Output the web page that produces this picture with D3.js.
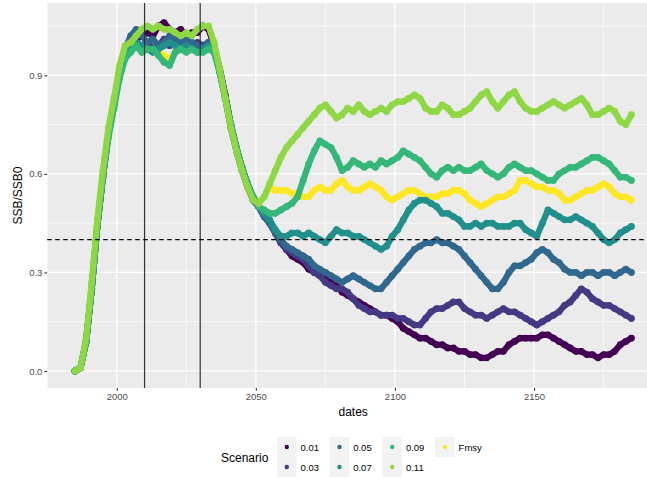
<!DOCTYPE html>
<html>
<head>
<meta charset="utf-8">
<script src="https://cdn.jsdelivr.net/npm/d3@7"></script>
<style>
  body { margin: 0; background: #fff; }
  text { font-family: "Liberation Sans", Arial, sans-serif; }
</style>
</head>
<body>
<div id="chart"></div>
<script>
// scenario names and their colours (viridis, 7 levels)
const scenarios = ["0.01", "0.03", "0.05", "0.07", "0.09", "0.11", "Fmsy"];
const colors = ["#440154", "#443A83", "#31688E", "#21908C", "#35B779", "#8FD744", "#FDE725"];

// one value every 2 years, 1985 .. 2185
const years = d3.range(1985, 2186, 2);

const s001 = [
  0.00, 0.01, 0.09, 0.25, 0.44, 0.59, 0.72, 0.81, 0.90, 0.97, // 1985
  1.00, 1.01, 1.02, 1.03, 1.02, 1.05, 1.06, 1.04, 1.03, 1.04, // 2005
  1.02, 1.03, 1.03, 1.05, 1.04, 0.99, 0.92, 0.84, 0.75, 0.68, // 2025
  0.62, 0.57, 0.53, 0.50, 0.47, 0.45, 0.42, 0.39, 0.37, 0.35, // 2045
  0.34, 0.33, 0.31, 0.30, 0.29, 0.28, 0.27, 0.26, 0.24, 0.23, // 2065
  0.22, 0.21, 0.20, 0.19, 0.18, 0.17, 0.17, 0.16, 0.15, 0.13, // 2085
  0.12, 0.11, 0.10, 0.10, 0.09, 0.08, 0.08, 0.07, 0.07, 0.06, // 2105
  0.06, 0.05, 0.05, 0.04, 0.04, 0.05, 0.06, 0.06, 0.08, 0.09, // 2125
  0.10, 0.10, 0.10, 0.10, 0.11, 0.11, 0.10, 0.09, 0.08, 0.07, // 2145
  0.06, 0.06, 0.05, 0.05, 0.04, 0.05, 0.05, 0.06, 0.08, 0.09, // 2165
  0.10];
const s003 = [
  0.00, 0.01, 0.09, 0.25, 0.44, 0.59, 0.72, 0.81, 0.90, 0.96,
  0.99, 1.00, 0.99, 1.00, 0.98, 0.99, 1.01, 0.99, 1.00, 0.99,
  0.98, 0.99, 1.00, 0.99, 1.00, 0.98, 0.91, 0.83, 0.74, 0.67,
  0.61, 0.56, 0.52, 0.50, 0.47, 0.45, 0.42, 0.39, 0.37, 0.36,
  0.35, 0.34, 0.32, 0.30, 0.29, 0.27, 0.26, 0.25, 0.25, 0.24,
  0.22, 0.20, 0.19, 0.18, 0.18, 0.17, 0.17, 0.17, 0.16, 0.16,
  0.15, 0.14, 0.14, 0.16, 0.18, 0.19, 0.19, 0.20, 0.21, 0.21,
  0.19, 0.18, 0.17, 0.17, 0.16, 0.17, 0.18, 0.19, 0.18, 0.18,
  0.17, 0.16, 0.15, 0.14, 0.15, 0.16, 0.17, 0.18, 0.20, 0.21,
  0.23, 0.25, 0.24, 0.22, 0.21, 0.20, 0.20, 0.19, 0.18, 0.17,
  0.16];
const s005 = [
  0.00, 0.01, 0.09, 0.25, 0.44, 0.59, 0.72, 0.82, 0.91, 0.98,
  1.02, 1.04, 1.02, 1.00, 1.01, 0.99, 1.00, 1.02, 1.01, 1.00,
  1.01, 1.00, 0.99, 0.98, 1.00, 0.98, 0.92, 0.84, 0.75, 0.68,
  0.62, 0.57, 0.53, 0.50, 0.47, 0.45, 0.42, 0.40, 0.38, 0.37,
  0.36, 0.35, 0.34, 0.32, 0.31, 0.30, 0.29, 0.28, 0.27, 0.28,
  0.29, 0.28, 0.27, 0.26, 0.25, 0.25, 0.27, 0.29, 0.31, 0.33,
  0.35, 0.37, 0.38, 0.39, 0.39, 0.40, 0.39, 0.39, 0.38, 0.37,
  0.35, 0.33, 0.31, 0.29, 0.27, 0.25, 0.25, 0.27, 0.30, 0.32,
  0.32, 0.33, 0.34, 0.36, 0.37, 0.36, 0.34, 0.33, 0.31, 0.30,
  0.30, 0.29, 0.30, 0.30, 0.29, 0.30, 0.30, 0.29, 0.30, 0.31,
  0.30];
const s007 = [
  0.00, 0.01, 0.09, 0.25, 0.44, 0.59, 0.72, 0.81, 0.90, 0.96,
  0.98, 1.00, 0.99, 0.98, 0.97, 0.98, 0.99, 1.00, 0.99, 0.98,
  0.99, 0.98, 0.97, 0.98, 0.99, 0.97, 0.91, 0.83, 0.75, 0.68,
  0.62, 0.57, 0.53, 0.50, 0.48, 0.46, 0.43, 0.41, 0.41, 0.42,
  0.42, 0.41, 0.42, 0.41, 0.40, 0.39, 0.41, 0.43, 0.42, 0.42,
  0.41, 0.41, 0.40, 0.39, 0.38, 0.37, 0.38, 0.41, 0.43, 0.46,
  0.49, 0.51, 0.52, 0.52, 0.51, 0.50, 0.48, 0.48, 0.47, 0.46,
  0.44, 0.44, 0.45, 0.44, 0.45, 0.45, 0.44, 0.44, 0.44, 0.45,
  0.45, 0.43, 0.42, 0.41, 0.45, 0.49, 0.48, 0.47, 0.46, 0.46,
  0.47, 0.46, 0.45, 0.44, 0.42, 0.40, 0.39, 0.40, 0.42, 0.43,
  0.44];
const s009 = [
  0.00, 0.01, 0.09, 0.25, 0.44, 0.59, 0.71, 0.80, 0.89, 0.95,
  0.97, 0.99, 0.97, 0.98, 0.98, 0.96, 0.94, 0.93, 0.97, 0.98,
  0.97, 0.98, 0.97, 0.97, 0.98, 0.97, 0.91, 0.83, 0.75, 0.68,
  0.62, 0.57, 0.53, 0.50, 0.49, 0.48, 0.48, 0.49, 0.50, 0.51,
  0.53, 0.58, 0.63, 0.67, 0.70, 0.69, 0.68, 0.65, 0.61, 0.62,
  0.64, 0.63, 0.62, 0.63, 0.62, 0.64, 0.63, 0.64, 0.65, 0.67,
  0.66, 0.65, 0.64, 0.62, 0.60, 0.59, 0.61, 0.62, 0.61, 0.62,
  0.61, 0.61, 0.62, 0.63, 0.61, 0.60, 0.59, 0.60, 0.62, 0.63,
  0.62, 0.61, 0.61, 0.60, 0.59, 0.58, 0.58, 0.60, 0.61, 0.62,
  0.62, 0.63, 0.64, 0.65, 0.65, 0.64, 0.63, 0.61, 0.59, 0.59,
  0.58];
const s011 = [
  0.00, 0.01, 0.10, 0.27, 0.46, 0.61, 0.74, 0.83, 0.93, 0.99,
  1.00, 1.02, 1.04, 1.05, 1.04, 1.05, 1.04, 1.04, 1.03, 1.02,
  1.03, 1.02, 1.04, 1.05, 1.05, 1.00, 0.92, 0.83, 0.74, 0.67,
  0.61, 0.56, 0.52, 0.51, 0.53, 0.57, 0.61, 0.65, 0.68, 0.70,
  0.72, 0.74, 0.76, 0.78, 0.80, 0.81, 0.79, 0.77, 0.78, 0.80,
  0.79, 0.81, 0.79, 0.78, 0.79, 0.80, 0.79, 0.81, 0.82, 0.82,
  0.83, 0.84, 0.83, 0.80, 0.79, 0.79, 0.81, 0.80, 0.78, 0.78,
  0.79, 0.80, 0.82, 0.84, 0.85, 0.82, 0.80, 0.82, 0.84, 0.85,
  0.82, 0.80, 0.79, 0.79, 0.80, 0.81, 0.82, 0.81, 0.80, 0.81,
  0.82, 0.83, 0.81, 0.78, 0.78, 0.79, 0.80, 0.79, 0.76, 0.75,
  0.78];
const sFmsy = [
  0.00, 0.01, 0.09, 0.25, 0.44, 0.59, 0.72, 0.81, 0.90, 0.96,
  0.98, 0.99, 0.97, 0.98, 0.99, 0.97, 0.96, 0.95, 0.97, 0.98,
  0.99, 0.98, 0.98, 0.99, 0.99, 0.98, 0.92, 0.84, 0.75, 0.68,
  0.62, 0.57, 0.53, 0.51, 0.53, 0.56, 0.55, 0.55, 0.55, 0.54,
  0.54, 0.53, 0.53, 0.55, 0.56, 0.55, 0.55, 0.57, 0.58, 0.56,
  0.55, 0.55, 0.56, 0.57, 0.56, 0.55, 0.53, 0.52, 0.53, 0.54,
  0.55, 0.55, 0.54, 0.53, 0.53, 0.53, 0.54, 0.54, 0.55, 0.55,
  0.54, 0.52, 0.51, 0.50, 0.51, 0.52, 0.53, 0.53, 0.54, 0.55,
  0.58, 0.58, 0.57, 0.56, 0.56, 0.55, 0.55, 0.54, 0.52, 0.52,
  0.53, 0.54, 0.55, 0.55, 0.56, 0.57, 0.56, 0.54, 0.53, 0.53,
  0.52];

const seriesValues = [s001, s003, s005, s007, s009, s011, sFmsy];

// reference lines
const vLines = [2010, 2030];
const hLine = 0.4;

// axis ticks
const xTicks = [2000, 2050, 2100, 2150];
const xMinor = [1975, 2025, 2075, 2125, 2175];
const yTicks = [0.0, 0.3, 0.6, 0.9];
const yMinor = [0.15, 0.45, 0.75, 1.05];

const w = 647;
const h = 479;
const panel = {left: 47.2, top: 3, right: 659.2, bottom: 388};

const svg = d3.select("#chart").
append("svg").
attr("width", w).
attr("height", h);

const x = d3.scaleLinear().domain([1975, 2195]).range([panel.left, panel.right]);
const y = d3.scaleLinear().domain([-0.0517, 1.12]).range([panel.bottom, panel.top]);

// grey panel
svg.append("rect").
attr("x", panel.left).
attr("y", panel.top).
attr("width", panel.right - panel.left).
attr("height", panel.bottom - panel.top).
attr("fill", "#EBEBEB");

// grid lines, minor first
const grid = svg.append("g");
grid.selectAll(".ymin").data(yMinor).enter().append("line").
attr("x1", panel.left).attr("x2", panel.right).
attr("y1", d => y(d)).attr("y2", d => y(d)).
attr("stroke", "#fff").attr("stroke-width", 0.6);
grid.selectAll(".xmin").data(xMinor).enter().append("line").
attr("x1", d => x(d)).attr("x2", d => x(d)).
attr("y1", panel.top).attr("y2", panel.bottom).
attr("stroke", "#fff").attr("stroke-width", 0.6);
grid.selectAll(".ymaj").data(yTicks).enter().append("line").
attr("x1", panel.left).attr("x2", panel.right).
attr("y1", d => y(d)).attr("y2", d => y(d)).
attr("stroke", "#fff").attr("stroke-width", 1.2);
grid.selectAll(".xmaj").data(xTicks).enter().append("line").
attr("x1", d => x(d)).attr("x2", d => x(d)).
attr("y1", panel.top).attr("y2", panel.bottom).
attr("stroke", "#fff").attr("stroke-width", 1.2);

// draw order: Fmsy underneath, then 0.01 .. 0.11
const order = [6, 0, 1, 2, 3, 4, 5];
const line = d3.line().x((d, i) => x(years[i])).y(d => y(d));

order.forEach(k => {
  const g = svg.append("g");
  g.append("path").
  attr("d", line(seriesValues[k])).
  attr("fill", "none").
  attr("stroke", colors[k]).
  attr("stroke-width", 6.2).
  attr("stroke-linejoin", "round").
  attr("stroke-linecap", "round");
  g.selectAll("circle").data(seriesValues[k]).enter().append("circle").
  attr("cx", (d, i) => x(years[i])).
  attr("cy", d => y(d)).
  attr("r", 3.4).
  attr("fill", colors[k]);
});

// vertical reference lines and dashed threshold
svg.selectAll(".vline").data(vLines).enter().append("line").
attr("x1", d => x(d)).attr("x2", d => x(d)).
attr("y1", panel.top).attr("y2", panel.bottom).
attr("stroke", "#333").attr("stroke-width", 1.2);

svg.append("line").
attr("x1", panel.left).attr("x2", panel.right).
attr("y1", y(hLine)).attr("y2", y(hLine)).
attr("stroke", "#000").attr("stroke-width", 1.3).
attr("stroke-dasharray", "4.5,3.5");

// axes
const xAxis = svg.append("g").
attr("transform", `translate(0,${panel.bottom})`).
call(d3.axisBottom(x).tickValues(xTicks).tickFormat(d3.format("d")).tickSize(2.8).tickPadding(2));
const yAxis = svg.append("g").
attr("transform", `translate(${panel.left},0)`).
call(d3.axisLeft(y).tickValues(yTicks).tickFormat(d3.format(".1f")).tickSize(2.8).tickPadding(2));

[xAxis, yAxis].forEach(a => {
  a.select(".domain").remove();
  a.selectAll(".tick line").attr("stroke", "#333").attr("stroke-width", 1.1);
  a.selectAll(".tick text").attr("fill", "#4D4D4D").attr("font-size", 9.5).
  style("font-family", "'Liberation Sans', Arial, sans-serif");
});

// axis titles
svg.append("text").
attr("x", (panel.left + panel.right) / 2).
attr("y", 416).
attr("text-anchor", "middle").
attr("font-size", 12).
text("dates");

svg.append("text").
attr("transform", `translate(22,${(panel.top + panel.bottom) / 2}) rotate(-90)`).
attr("text-anchor", "middle").
attr("font-size", 12).
text("SSB/SSB0");

// legend, 4 columns x 2 rows
const legend = svg.append("g").attr("id", "legend");
legend.append("text").
attr("x", 221).
attr("y", 462).
attr("font-size", 12).
text("Scenario");

const keyX = [277, 329.7, 382.4, 435.1];
const keyY = [437, 457];
scenarios.forEach((s, i) => {
  const col = Math.floor(i / 2);
  const row = i % 2;
  const item = legend.append("g").attr("class", "legend-item");
  item.append("rect").
  attr("x", keyX[col]).attr("y", keyY[row]).
  attr("width", 19.5).attr("height", 20).
  attr("fill", "#F2F2F2");
  item.append("circle").
  attr("cx", keyX[col] + 9.8).attr("cy", keyY[row] + 10).
  attr("r", 2.2).
  attr("fill", colors[i]);
  item.append("text").
  attr("x", keyX[col] + 23.5).attr("y", keyY[row] + 13.5).
  attr("font-size", 9.5).
  text(s);
});
</script>
</body>
</html>
